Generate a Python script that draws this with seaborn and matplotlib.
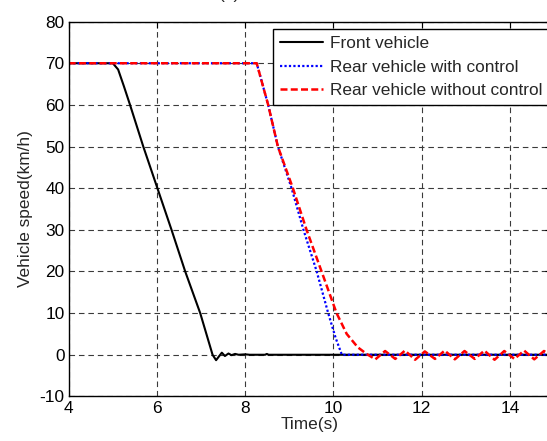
import numpy as np
import matplotlib
matplotlib.use("Agg")
import matplotlib.pyplot as plt
import pandas as pd
import seaborn as sns

# values
front_t = [4.0, 5.0, 5.12, 5.25, 5.39, 5.69, 6.01, 6.33, 6.64, 6.98, 7.26, 7.34,
           7.47, 7.54, 7.62, 7.69, 7.77, 7.85, 8.0, 8.1, 8.45, 8.49, 8.53, 15.0]
front_v = [70, 70, 68.5, 64.5, 60, 50, 40, 30, 20, 10, 0, -1.3,
           0.5, -0.3, 0.3, -0.1, 0.2, 0.0, 0.1, 0.0, 0.0, 0.2, 0.0, 0.0]

with_t = [4.0, 8.26, 8.52, 8.74, 9.05, 9.32, 9.62, 9.88, 10.05, 10.19, 15.0]
with_v = [70, 70, 60, 50, 40, 30, 20, 10, 4, 0, 0]

without_t = [4.0, 8.26, 8.52, 8.74, 9.08, 9.39, 9.73, 10.07, 10.3, 10.55, 10.75,
             10.95, 11.17, 11.4, 11.62, 11.85, 12.07, 12.3, 12.52, 12.75, 12.97,
             13.2, 13.42, 13.65, 13.87, 14.1, 14.32, 14.55, 14.77, 15.0]
without_v = [70, 70, 60, 50, 40, 30, 20, 10, 5, 1.8, 0.2,
             -1.1, 0.9, -1.0, 1.0, -1.2, 0.8, -1.0, 1.0, -1.1, 0.9,
             -1.0, 1.0, -1.2, 0.9, -1.0, 1.0, -1.1, 0.9, -0.5]

labels = ["Front vehicle", "Rear vehicle with control", "Rear vehicle without control"]
x_ticks = [4, 6, 8, 10, 12, 14]
y_ticks = [-10, 0, 10, 20, 30, 40, 50, 60, 70, 80]

sns.set_style("white")
plt.rcParams["font.family"] = ["Liberation Sans", "DejaVu Sans"]
plt.rcParams["font.size"] = 12.4
plt.rcParams["axes.unicode_minus"] = False

fig = plt.figure(figsize=(5.47, 4.41), dpi=100)
W, H = 547.0, 441.0
x0, x1, ytop, ybot = 68.7, 551.0, 21.6, 396.4
ax = fig.add_axes([x0 / W, 1 - ybot / H, (x1 - x0) / W, (ybot - ytop) / H])

df_front = pd.DataFrame({"t": front_t, "v": front_v})
df_with = pd.DataFrame({"t": with_t, "v": with_v})
df_without = pd.DataFrame({"t": without_t, "v": without_v})

sns.lineplot(data=df_front, x="t", y="v", ax=ax, color="black", lw=1.5,
             estimator=None, sort=False, label=labels[0])
sns.lineplot(data=df_with, x="t", y="v", ax=ax, color="blue", lw=1.6,
             ls=(0, (1, 1)), estimator=None, sort=False, label=labels[1])
sns.lineplot(data=df_without, x="t", y="v", ax=ax, color="red", lw=1.8,
             ls=(0, (2.8, 1.3)), estimator=None, sort=False, label=labels[2])

ax.set_xlim(4, 4 + (x1 - x0) / 44.13)
ax.set_ylim(-10, 80)
ax.set_xticks(x_ticks)
ax.set_yticks(y_ticks)
ax.tick_params(direction="in", length=4, width=0.8, top=True, right=True,
               labelsize=12.4, pad=3, colors="black")
for s in ax.spines.values():
    s.set_color("black")
    s.set_linewidth(1.0)
ax.grid(True, color="#3a3a3a", lw=0.8, ls=(0, (5, 3.5)))
ax.set_xlabel("Time(s)", fontsize=12.4, labelpad=1)
ax.set_ylabel("Vehicle speed(km/h)", fontsize=12.4, labelpad=5)

leg = ax.legend(loc="upper left", bbox_to_anchor=(272.7 / W, 1 - 29 / H),
                bbox_transform=fig.transFigure, fontsize=12.4, frameon=True,
                fancybox=False, shadow=False, borderpad=0.4, labelspacing=0.5,
                handlelength=2.5, handletextpad=0.4, borderaxespad=0)
leg.get_frame().set_edgecolor("black")
leg.get_frame().set_linewidth(1.0)
leg.get_frame().set_alpha(1.0)

fig.text(230 / W, 1 - 2 / H, "(a)", ha="center", va="bottom", fontsize=12.4)

fig.savefig("out.png", dpi=100)
